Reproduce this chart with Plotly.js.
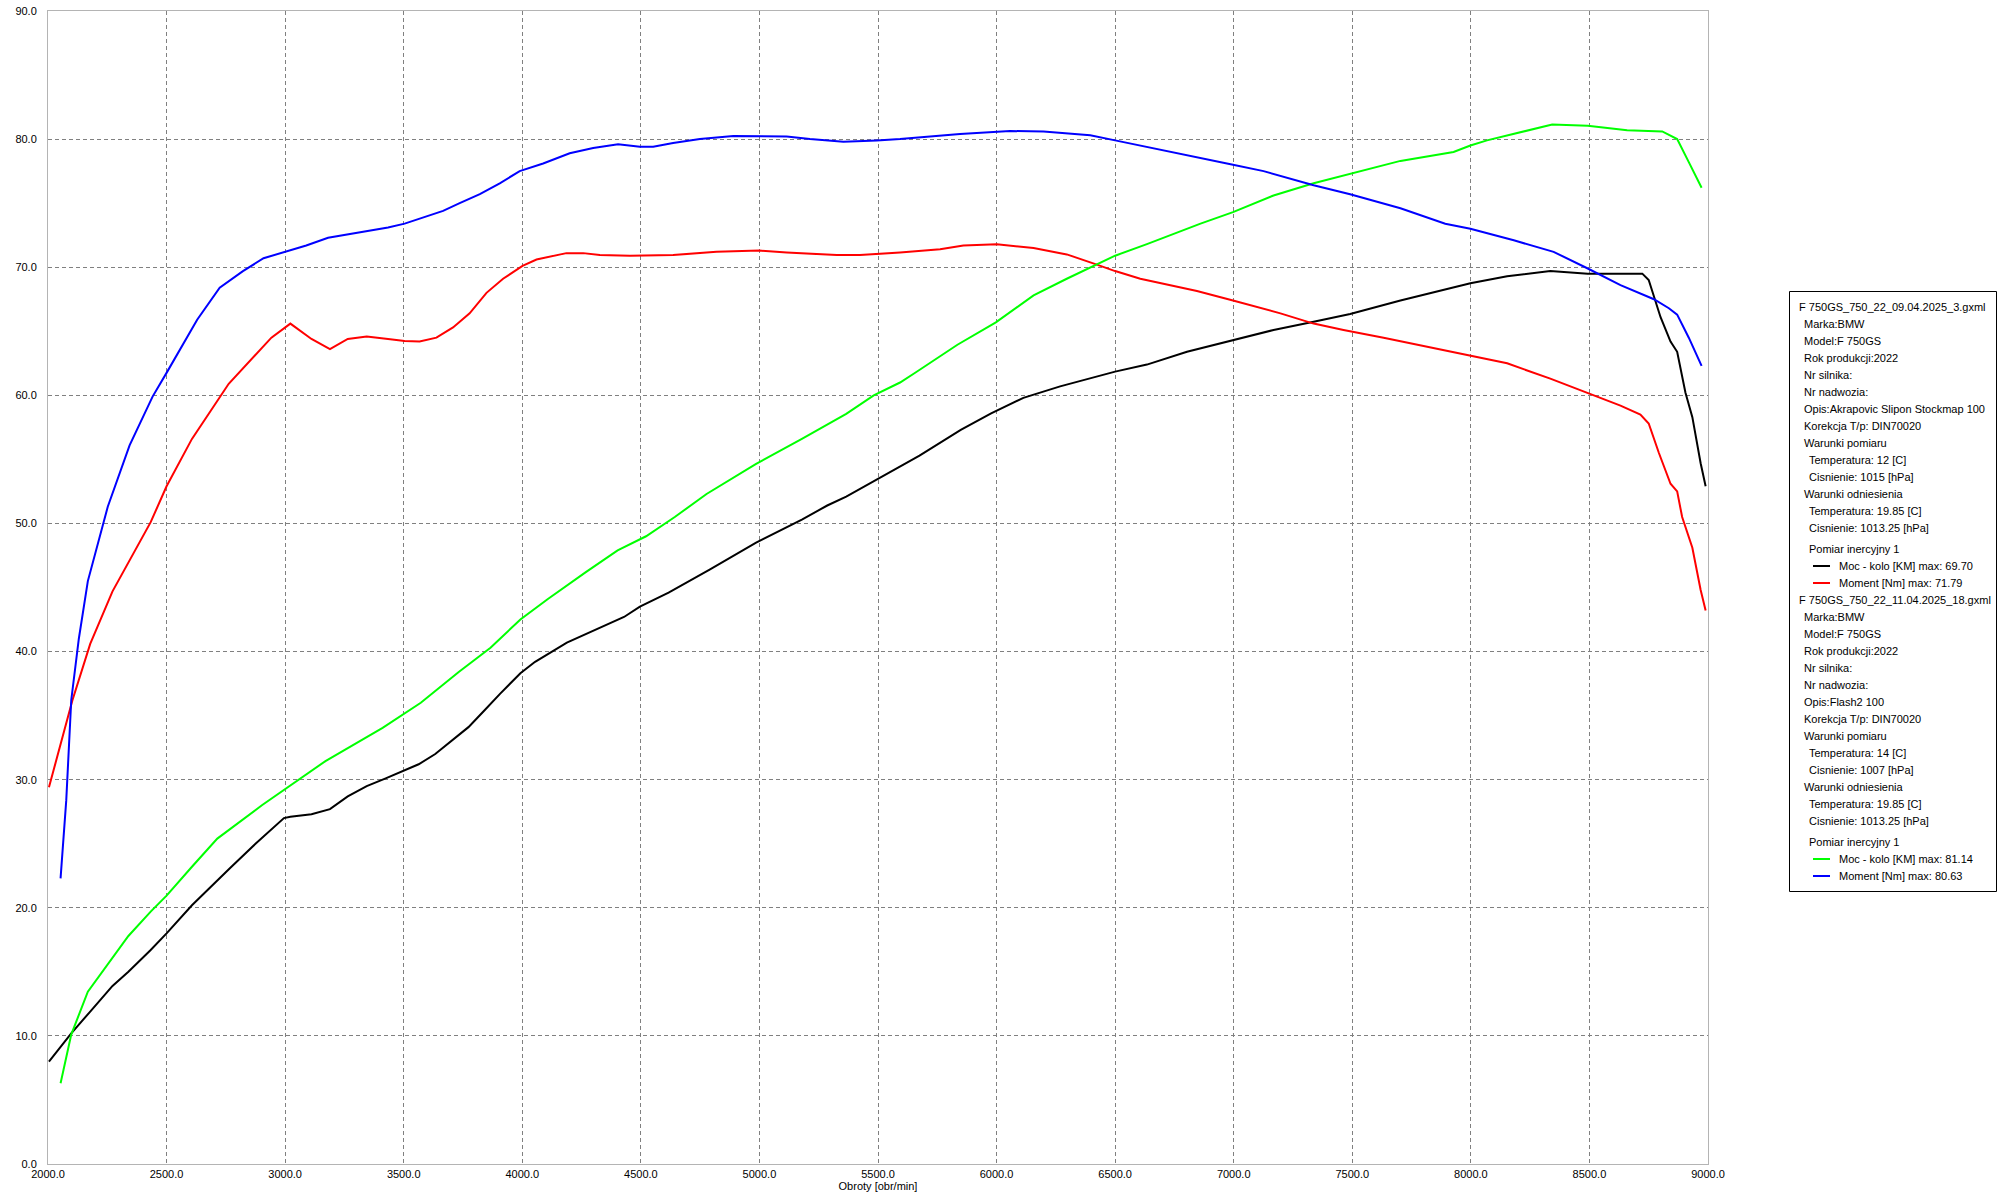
<!DOCTYPE html>
<html>
<head>
<meta charset="utf-8">
<script src="https://cdn.plot.ly/plotly-3.0.1.min.js"></script>
<style>
  html, body { margin: 0; padding: 0; background: #ffffff; }
  #chart { width: 2002px; height: 1200px; }
</style>
</head>
<body>
<div id="chart"></div>
<script>
// ---------- DATA ----------
// File 1: F 750GS_750_22_09.04.2025_3.gxml
const rpmPower1 = [2004,2098,2178,2272,2339,2433,2500,2607,2768,2875,2995,3022,3111,3189,3264,3344,3424,3491,3563,3633,3705,3773,3840,3906,3992,4054,4188,4295,4429,4496,4617,4790,4986,5179,5286,5366,5482,5554,5675,5849,5977,6113,6268,6500,6634,6803,6997,7168,7337,7491,7703,7998,8153,8335,8493,8723,8750,8779,8800,8842,8870,8905,8934,8969,8990];
const power1 = [8.0,10.2,11.9,13.9,15.0,16.7,18.0,20.2,23.1,25.0,27.0,27.1,27.3,27.7,28.7,29.5,30.1,30.6,31.2,32.0,33.1,34.1,35.4,36.7,38.3,39.2,40.7,41.6,42.7,43.5,44.6,46.4,48.5,50.3,51.4,52.1,53.3,54.0,55.3,57.3,58.6,59.8,60.7,61.85,62.4,63.4,64.3,65.1,65.75,66.35,67.4,68.75,69.3,69.7,69.5,69.5,69.0,67.4,66.1,64.2,63.4,60.2,58.3,54.7,52.9];

const rpmTorque1 = [2004,2058,2103,2178,2272,2433,2500,2607,2762,2942,3022,3111,3189,3264,3344,3434,3504,3567,3638,3708,3778,3849,3919,4001,4060,4186,4257,4327,4454,4636,4819,5000,5115,5326,5424,5593,5762,5860,6001,6156,6296,6423,6500,6606,6732,6845,6997,7112,7197,7337,7463,7632,7815,7998,8153,8335,8493,8631,8715,8750,8793,8842,8870,8891,8934,8969,8990];
const torque1 = [29.4,33.2,36.2,40.6,44.7,50.1,52.9,56.6,60.9,64.5,65.6,64.4,63.6,64.4,64.6,64.4,64.25,64.2,64.5,65.3,66.4,68.0,69.1,70.1,70.6,71.1,71.1,70.95,70.9,70.95,71.2,71.3,71.15,70.95,70.95,71.15,71.4,71.7,71.79,71.5,71.0,70.2,69.7,69.1,68.6,68.15,67.4,66.8,66.4,65.6,65.1,64.5,63.8,63.1,62.5,61.3,60.2,59.2,58.5,57.8,55.5,53.1,52.5,50.5,48.1,44.8,43.2];

// File 2: F 750GS_750_22_11.04.2025_18.gxml
const rpmPower2 = [2053,2098,2168,2246,2339,2433,2500,2607,2714,2902,2995,3170,3411,3572,3732,3866,3992,4108,4268,4402,4522,4643,4777,4986,5179,5366,5482,5593,5660,5835,5997,6103,6156,6296,6500,6634,6860,6997,7168,7337,7491,7703,7927,7998,8068,8264,8343,8493,8659,8807,8870,8919,8973];
const power2 = [6.3,10.1,13.45,15.4,17.8,19.7,20.95,23.2,25.4,28.0,29.2,31.45,34.05,36.0,38.4,40.3,42.5,44.1,46.2,47.9,49.0,50.5,52.3,54.65,56.6,58.55,60.0,61.0,61.8,63.95,65.7,67.1,67.8,69.1,70.9,71.8,73.4,74.3,75.6,76.55,77.3,78.3,79.0,79.5,79.9,80.8,81.14,81.05,80.7,80.6,80.0,78.2,76.2];

const rpmTorque2 = [2053,2077,2098,2130,2168,2252,2344,2441,2503,2629,2724,2822,2909,3001,3089,3181,3272,3349,3434,3504,3666,3736,3821,3905,3989,4088,4200,4299,4404,4496,4552,4636,4749,4890,5000,5115,5213,5354,5495,5593,5846,6057,6198,6395,6500,6634,6732,6901,6997,7126,7337,7491,7703,7892,7998,8181,8349,8493,8631,8772,8835,8870,8919,8973];
const torque2 = [22.3,28.4,36.2,41.0,45.5,51.3,56.1,59.9,61.85,65.9,68.4,69.7,70.7,71.2,71.7,72.3,72.6,72.8,73.1,73.4,74.4,75.0,75.7,76.55,77.5,78.1,78.9,79.3,79.6,79.4,79.4,79.7,80.0,80.25,80.25,80.2,80.0,79.8,79.9,80.0,80.4,80.63,80.6,80.3,79.9,79.4,79.0,78.4,78.0,77.5,76.4,75.7,74.6,73.4,73.0,72.1,71.2,69.9,68.6,67.5,66.8,66.3,64.5,62.3];

const xTickValues = [2000,2500,3000,3500,4000,4500,5000,5500,6000,6500,7000,7500,8000,8500,9000];
const yTickValues = [0,10,20,30,40,50,60,70,80,90];
const xTitle = "Obroty [obr/min]";

const legendFile1 = ["F 750GS_750_22_09.04.2025_3.gxml","Marka:BMW","Model:F 750GS","Rok produkcji:2022","Nr silnika:","Nr nadwozia:","Opis:Akrapovic Slipon Stockmap 100","Korekcja T/p: DIN70020","Warunki pomiaru","Temperatura: 12 [C]","Cisnienie: 1015 [hPa]","Warunki odniesienia","Temperatura: 19.85 [C]","Cisnienie: 1013.25 [hPa]","Pomiar inercyjny 1"];
const legendSeries1 = ["Moc - kolo [KM] max: 69.70","Moment [Nm] max: 71.79"];
const legendFile2 = ["F 750GS_750_22_11.04.2025_18.gxml","Marka:BMW","Model:F 750GS","Rok produkcji:2022","Nr silnika:","Nr nadwozia:","Opis:Flash2 100","Korekcja T/p: DIN70020","Warunki pomiaru","Temperatura: 14 [C]","Cisnienie: 1007 [hPa]","Warunki odniesienia","Temperatura: 19.85 [C]","Cisnienie: 1013.25 [hPa]","Pomiar inercyjny 1"];
const legendSeries2 = ["Moc - kolo [KM] max: 81.14","Moment [Nm] max: 80.63"];

// ---------- STYLE / LAYOUT ----------
const colors1 = ["#000000", "#ff0000"];
const colors2 = ["#00ff00", "#0000ff"];
const W = 2002, H = 1200;
const M = {l: 48, r: 294, t: 11, b: 36};
const PW = W - M.l - M.r, PH = H - M.t - M.b;
const px2x = p => (p - M.l) / PW;
const px2y = p => (H - M.b - p) / PH;
const FONT = "Liberation Sans, Arial, sans-serif";

function trace(x, y, color) {
  return {x: x, y: y, type: "scatter", mode: "lines",
          line: {color: color, width: 2}, hoverinfo: "skip", showlegend: false};
}
const traces = [
  trace(rpmPower1, power1, colors1[0]),
  trace(rpmTorque1, torque1, colors1[1]),
  trace(rpmPower2, power2, colors2[0]),
  trace(rpmTorque2, torque2, colors2[1])
];

const annotations = [];
const shapes = [];
function addText(str, xpx, ypx) {
  annotations.push({text: str, xref: "paper", yref: "paper", x: px2x(xpx), y: px2y(ypx),
    xanchor: "left", yanchor: "middle", showarrow: false, borderpad: 0,
    font: {family: FONT, size: 11, color: "#000000"}});
}
function addBlock(lines, series, cols, top) {
  const indent = [0,1,1,1,1,1,1,1,1,2,2,1,2,2,2];
  lines.forEach((s, i) => {
    let y = top + i * 17;
    if (i === 14) y += 4;
    addText(s, 1798 + indent[i] * 5, y);
  });
  series.forEach((s, j) => {
    const y = top + 14 * 17 + 4 + (j + 1) * 17;
    shapes.push({type: "line", xref: "paper", yref: "paper", x0: px2x(1813), x1: px2x(1830),
      y0: px2y(y), y1: px2y(y), line: {color: cols[j], width: 2}});
    addText(s, 1838, y);
  });
}
addBlock(legendFile1, legendSeries1, colors1, 307);
addBlock(legendFile2, legendSeries2, colors2, 600);
shapes.push({type: "rect", xref: "paper", yref: "paper", x0: px2x(1789.5), x1: px2x(1996.5),
  y0: px2y(291.5), y1: px2y(891.5), line: {color: "#000000", width: 1}, fillcolor: "rgba(0,0,0,0)"});

const axisCommon = {
  showline: true, mirror: true, linecolor: "#b4b4b4", linewidth: 1,
  showgrid: true, gridcolor: "#808080", gridwidth: 1, griddash: "4px,3px",
  zeroline: false, tickformat: ".1f", ticks: "",
  tickfont: {family: FONT, size: 11, color: "#000000"}
};

const layout = {
  width: W, height: H,
  margin: M,
  paper_bgcolor: "#ffffff", plot_bgcolor: "#ffffff",
  showlegend: false,
  xaxis: Object.assign({}, axisCommon, {
    range: [2000, 9000], tickvals: xTickValues, autorange: false,
    title: {text: xTitle, font: {family: FONT, size: 11, color: "#000000"}, standoff: 2}
  }),
  yaxis: Object.assign({}, axisCommon, {
    range: [0, 90], tickvals: yTickValues, autorange: false, ticklabelstandoff: 8
  }),
  annotations: annotations,
  shapes: shapes
};

Plotly.newPlot("chart", traces, layout, {displayModeBar: false, staticPlot: true});
</script>
</body>
</html>
